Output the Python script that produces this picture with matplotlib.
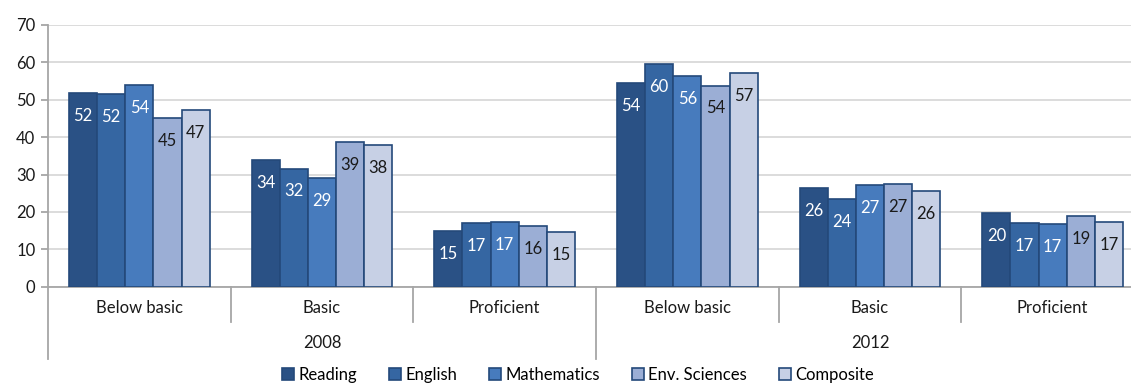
import matplotlib.pyplot as plt
import matplotlib.transforms as mtransforms
import numpy as np

plt.rcParams['font.family'] = ['Lato', 'DejaVu Sans']

# Data
levels = ['Below basic', 'Basic', 'Proficient', 'Below basic', 'Basic', 'Proficient']
years = ['2008', '2012']
series = ['Reading', 'English', 'Mathematics', 'Env. Sciences', 'Composite']

reading = [51.9, 33.8, 14.9, 54.4, 26.4, 19.6]
english = [51.6, 31.6, 17.0, 59.6, 23.5, 17.1]
mathematics = [53.9, 29.1, 17.2, 56.4, 27.2, 16.7]
env_sciences = [45.1, 38.6, 16.3, 53.8, 27.4, 18.8]
composite = [47.3, 37.8, 14.7, 57.1, 25.7, 17.4]

values = [reading, english, mathematics, env_sciences, composite]
colors = ['#2A5185', '#3566A2', '#477BBD', '#9BAED5', '#C7D0E5']
label_colors = ['white', 'white', 'white', '#1a1a1a', '#1a1a1a']

W, H = 1131, 385
fs = 12
fig = plt.figure(figsize=(W / 100, H / 100), dpi=100)
# axes slightly wider than the figure: right edge is clipped like the original
ax = fig.add_axes([48 / W, 1 - 286.7 / H, 1096 / W, (286.7 - 25) / H])

x = np.arange(len(levels))
bw = 0.154
for i, (name, vals) in enumerate(zip(series, values)):
    pos = x + (i - 2) * bw
    bars = ax.bar(pos, vals, width=bw, color=colors[i], edgecolor='#24497A',
                  linewidth=1.2, label=name, zorder=3)
    for b, v in zip(bars, vals):
        ax.annotate(f'{v:.0f}', (b.get_x() + b.get_width() / 2, v),
                    xytext=(0, -16.5), textcoords='offset points',
                    ha='center', va='center', fontsize=fs,
                    color=label_colors[i], zorder=4)

ax.set_xlim(-0.5, len(levels) - 0.5)
ax.set_ylim(0, 70)
ax.set_yticks(range(0, 71, 10))
ax.yaxis.grid(True, color='#D9D9D9', linewidth=1.3, zorder=0)
ax.set_axisbelow(True)

for s in ['top', 'right']:
    ax.spines[s].set_visible(False)
grey = '#A6A6A6'
ax.spines['left'].set_color(grey)
ax.spines['bottom'].set_color(grey)
ax.spines['left'].set_linewidth(1.3)
ax.spines['bottom'].set_linewidth(1.3)
ax.tick_params(axis='y', length=5, width=1.3, color=grey, pad=4,
               labelsize=fs, labelcolor='#1a1a1a')
ax.set_xticks([])

# Two-level category axis
trans = mtransforms.blended_transform_factory(ax.transData, ax.transAxes)
px = 1 / (286.7 - 25)
for i, lv in enumerate(levels):
    ax.text(x[i], -21 * px, lv, transform=trans, ha='center', va='center',
            fontsize=fs, color='#1a1a1a', clip_on=False)
for k, yr in enumerate(years):
    ax.text(k * 3 + 1, -56 * px, yr, transform=trans, ha='center',
            va='center', fontsize=fs, color='#1a1a1a', clip_on=False)
for j in range(len(levels) + 1):
    xb = j - 0.5
    depth = 72 if j % 3 == 0 else 35
    ax.plot([xb, xb], [0, -depth * px], transform=trans, color=grey,
            linewidth=1.3, clip_on=False)

fig.legend(loc='center', bbox_to_anchor=(0.511, 10 / H), ncol=5, frameon=False,
           fontsize=fs, handlelength=0.75, handleheight=0.75,
           handletextpad=0.25, columnspacing=1.9, borderpad=0.1)

fig.savefig('out.png', dpi=100)
